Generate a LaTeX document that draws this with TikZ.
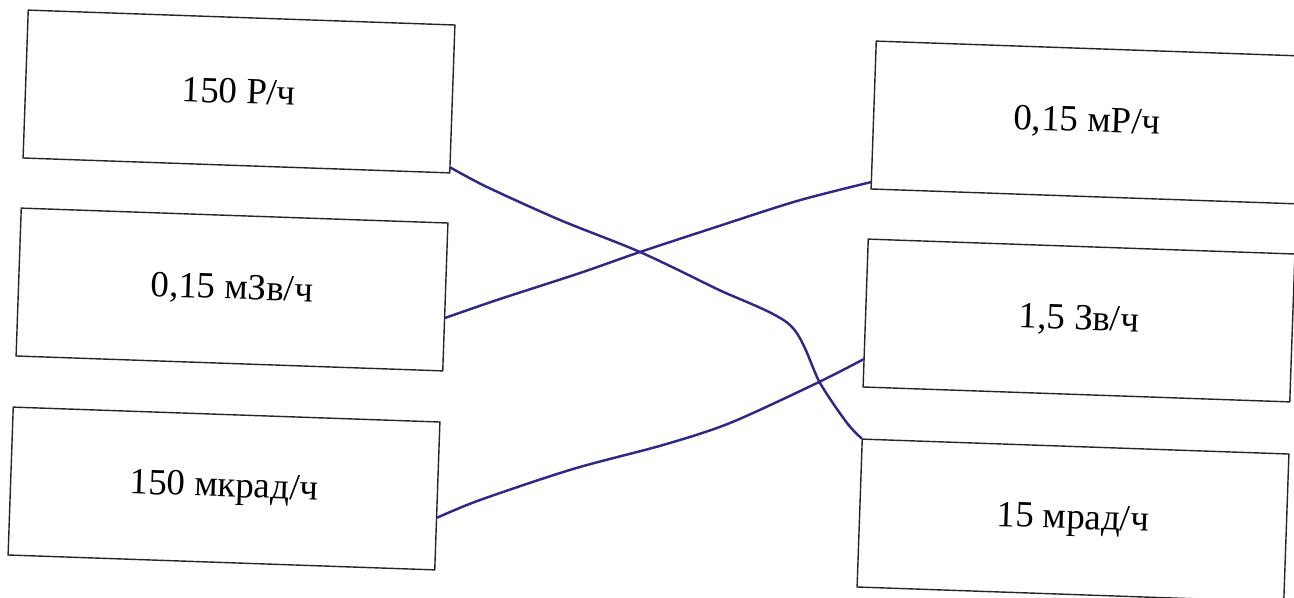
\documentclass[tikz,border=0pt]{standalone}
\usepackage{fontspec}
\setmainfont{Liberation Serif}
\usetikzlibrary{calc}
\definecolor{penink}{RGB}{48,40,135}

\begin{document}
\begin{tikzpicture}[
    x=0.02cm, y=-0.02cm,
    box/.style={rectangle,draw=black!85,line width=0.8pt,rotate=-2,inner sep=0pt,minimum width=8.54cm,minimum height=2.96cm,font=\fontsize{21}{25}\selectfont},
    pen/.style={draw=penink,line width=1.4pt,line cap=round,line join=round}
]
\useasboundingbox (0,0) rectangle (1294,598);
\clip (0,0) rectangle (1294,598);

% left column
\node[box] (rHour) at (239,91.5) {150 Р/ч};
\node[box] (mZvHour) at (232,289.5) {0,15 мЗв/ч};
\node[box] (mkradHour) at (224,488.5) {150 мкрад/ч};

% right column
\node[box] (mRHour) at (1087,122.5) {0,15 мР/ч};
\node[box] (zvHour) at (1079,320.5) {1,5 Зв/ч};
\node[box] (mradHour) at (1073,520.5) {15 мрад/ч};

% hand-drawn matching lines
\draw[pen] plot[smooth,tension=0.5] coordinates {($(rHour.south east)!0.08!(rHour.east)$) (487,187) (560,220) (640,252) (717,289) (790,325) (820,383) (847,423) (mradHour.north west)};
\draw[pen] plot[smooth,tension=0.5] coordinates {($(mZvHour.east)!0.28!(mZvHour.south east)$) (497,300) (580,273) (640,252) (713,228) (797,201) ($(mRHour.south west)!0.1!(mRHour.west)$)};
\draw[pen] plot[smooth,tension=0.5] coordinates {($(mkradHour.east)!0.29!(mkradHour.south east)$) (480,500) (573,469) (663,445) (730,423) (817,383) ($(zvHour.west)!0.62!(zvHour.south west)$)};

\end{tikzpicture}
\end{document}
